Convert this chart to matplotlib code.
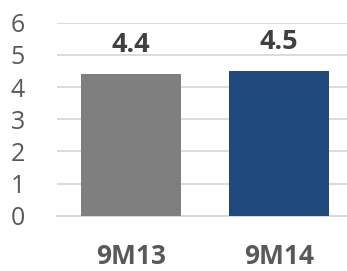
import matplotlib.pyplot as plt

# Data
categories = ['9M13', '9M14']
values = [4.4, 4.5]
bar_colors = ['#7f7f7f', '#1f497d']
y_ticks = [0, 1, 2, 3, 4, 5, 6]

plt.rcParams['font.family'] = ['Open Sans', 'DejaVu Sans']

fig = plt.figure(figsize=(3.47, 2.71), dpi=100)
ax = fig.add_axes([57/347, 55.3/271, 296/347, 193/271])

x = range(len(categories))
ax.bar(x, values, width=0.676, color=bar_colors, zorder=3)

for i, v in enumerate(values):
    ax.annotate(str(v), (i, v), xytext=(0, 16), textcoords='offset pixels',
                ha='center', va='bottom', fontsize=19.5, fontweight='bold', color='#404040')

ax.set_xlim(-0.5, 1.5)
ax.set_ylim(0, 6)
ax.set_yticks(y_ticks)
ax.set_xticks(list(x))
ax.set_xticklabels(categories, fontsize=19, fontweight='bold', color='#595959')
ax.tick_params(axis='y', length=0, pad=23, labelsize=18, labelcolor='#595959')
ax.tick_params(axis='x', length=0, pad=20)
ax.grid(axis='y', color='#d9d9d9', linewidth=1.3, zorder=0)
for s in ['top', 'right', 'left']:
    ax.spines[s].set_visible(False)
ax.spines['bottom'].set_color('#d9d9d9')
ax.spines['bottom'].set_linewidth(1.5)

plt.savefig('out.png', dpi=100)
